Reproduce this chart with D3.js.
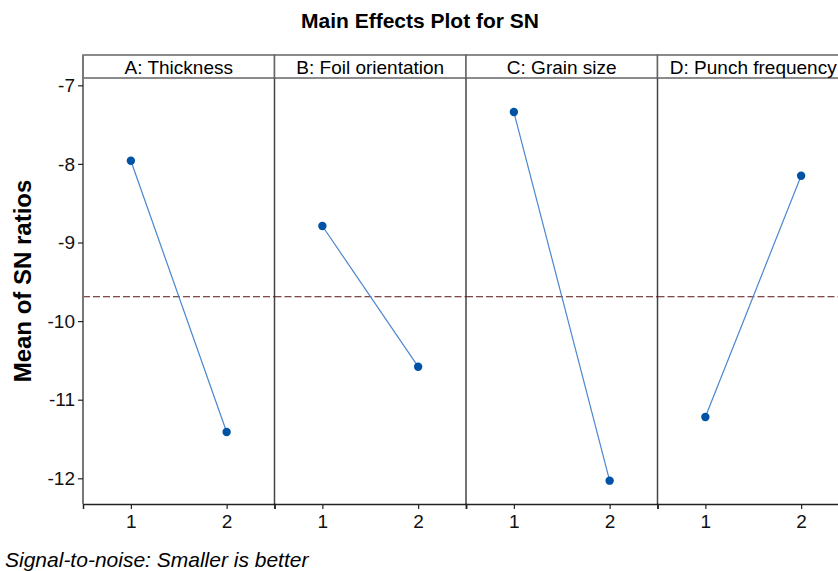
<!DOCTYPE html>
<html>
<head>
<meta charset="utf-8">
<script src="https://cdn.jsdelivr.net/npm/d3@7"></script>
<style>
  body { margin: 0; background: #fff; }
  text { font-family: "Liberation Sans", Arial, sans-serif; }
</style>
</head>
<body>
<script>
// factor names and levels
var factors = ["A: Thickness", "B: Foil orientation", "C: Grain size", "D: Punch frequency"];
var levels = [1, 2];
// mean SN ratio per factor, level 1 then level 2
var meanSN = [
  [-7.96, -11.41],
  [-8.79, -10.58],
  [-7.34, -12.03],
  [-11.22, -8.15]
];
var grandMean = -9.69;
var yTicks = [-7, -8, -9, -10, -11, -12];

var width = 838, height = 571;
var margin = {top: 78, left: 83, bottom: 67};
var panelW = 191.5,
    stripH = 23;

var svg = d3.select("body")
    .append("svg")
        .attr("width", width)
        .attr("height", height);

var y = d3.scaleLinear()
    .domain([-12.327, -6.907])
    .range([height - margin.bottom, margin.top]);

// Title
svg.append("text")
    .attr("x", 420)
    .attr("y", 28)
    .attr("text-anchor", "middle")
    .style("font-size", "21px")
    .style("font-weight", "bold")
    .text("Main Effects Plot for SN");

// y label
svg.append("text")
    .attr("transform", "translate(31,281) rotate(-90)")
    .attr("text-anchor", "middle")
    .style("font-size", "24px")
    .style("font-weight", "bold")
    .text("Mean of SN ratios");

// footer
svg.append("text")
    .attr("x", 5)
    .attr("y", 567)
    .style("font-size", "21px")
    .style("font-style", "italic")
    .text("Signal-to-noise: Smaller is better");

var plotTop = margin.top, plotBottom = height - margin.bottom;

factors.forEach(function(name, i) {
    var x0 = margin.left + i * panelW;
    var x = d3.scaleLinear().domain([0.5, 2.5]).range([x0, x0 + panelW]);

    // strip header
    svg.append("rect")
        .attr("x", x0)
        .attr("y", plotTop - stripH)
        .attr("width", panelW)
        .attr("height", stripH)
        .attr("fill", "#fff")
        .attr("stroke", "#666")
        .attr("stroke-width", 1.5);

    svg.append("text")
        .attr("x", x0 + panelW / 2)
        .attr("y", plotTop - 4)
        .attr("text-anchor", "middle")
        .style("font-size", "19px")
        .text(name);

    // right divider
    svg.append("line")
        .attr("x1", x0 + panelW).attr("x2", x0 + panelW)
        .attr("y1", plotTop).attr("y2", plotBottom)
        .attr("stroke", "#444")
        .attr("stroke-width", 1.5);

    // reference line (grand mean)
    svg.append("line")
        .attr("x1", x0).attr("x2", x0 + panelW)
        .attr("y1", y(grandMean)).attr("y2", y(grandMean))
        .attr("stroke", "#5a1414")
        .attr("stroke-width", 1)
        .attr("stroke-dasharray", "7,3");

    // x axis
    var xAxis = d3.axisBottom(x).tickValues(levels).tickSize(5).tickPadding(6).tickFormat(d3.format("d"));
    var gx = svg.append("g")
        .attr("transform", "translate(0," + plotBottom + ")")
        .call(xAxis);
    gx.select(".domain").attr("stroke", "#222").attr("stroke-width", 1.5);
    gx.selectAll("text").style("font-size", "19px").attr("fill", "#111");
    gx.selectAll(".tick line").attr("stroke", "#222").attr("stroke-width", 1.2);

    var pts = levels.map(function(l, j) { return {lev: l, val: meanSN[i][j]}; });

    svg.append("path")
        .attr("d", d3.line()
            .x(function(d) { return x(d.lev); })
            .y(function(d) { return y(d.val); })(pts))
        .attr("fill", "none")
        .attr("stroke", "#4a86cf")
        .attr("stroke-width", 1.2);

    svg.selectAll(null)
        .data(pts)
        .enter().append("circle")
        .attr("cx", function(d) { return x(d.lev); })
        .attr("cy", function(d) { return y(d.val); })
        .attr("r", 4.2)
        .attr("fill", "#0052a5");
});

// y axis
var yAxis = d3.axisLeft(y).tickValues(yTicks).tickSize(5).tickPadding(3);
var gy = svg.append("g")
    .attr("transform", "translate(" + margin.left + ",0)")
    .call(yAxis);
gy.select(".domain").attr("stroke", "#777").attr("stroke-width", 2)
    .attr("d", "M0," + plotBottom + "V" + (plotTop - stripH));
gy.selectAll("text").style("font-size", "19px").attr("fill", "#111")
    .text(function(d) { return "-" + Math.abs(d); });
gy.selectAll(".tick line").attr("stroke", "#222").attr("stroke-width", 1.2);
</script>
</body>
</html>
